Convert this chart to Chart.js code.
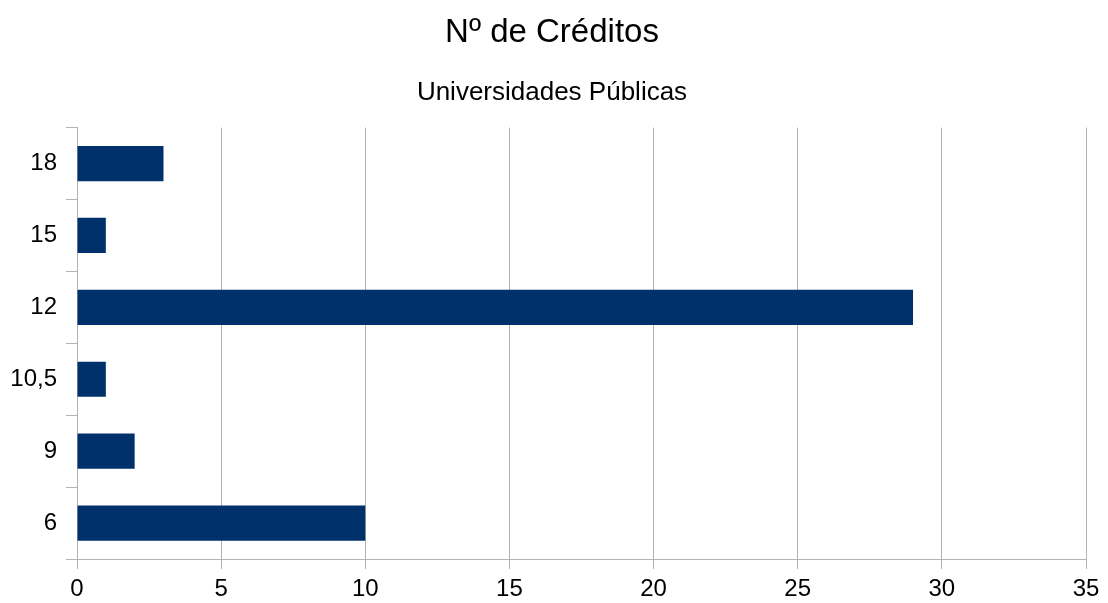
<!DOCTYPE html>
<html>
<head>
<meta charset="utf-8">
<script src="https://cdn.jsdelivr.net/npm/chart.js@4/dist/chart.umd.min.js"></script>
<style>
html,body{margin:0;padding:0;background:#fff;}
#wrap{width:1108px;height:603px;}
</style>
</head>
<body>
<div id="wrap"><canvas id="c" width="1108" height="603"></canvas></div>
<script>
const categories = ['6', '9', '10,5', '12', '15', '18'];
const values = [10, 2, 1, 29, 1, 3];
const xTicks = [0, 5, 10, 15, 20, 25, 30, 35];
const titleText = 'Nº de Créditos';
const subtitleText = 'Universidades Públicas';

const GRID = '#b3b3b3';
const FONT = "'Liberation Sans', Arial, sans-serif";

new Chart(document.getElementById('c'), {
  type: 'bar',
  data: {
    labels: categories,
    datasets: [{
      data: values,
      backgroundColor: '#00316b',
      borderWidth: 0,
      categoryPercentage: 1,
      barPercentage: 0.49
    }]
  },
  options: {
    indexAxis: 'y',
    responsive: false,
    animation: false,
    layout: { padding: { left: 18, right: 22, top: 0, bottom: 0 } },
    plugins: {
      legend: { display: false },
      tooltip: { enabled: false },
      title: {
        display: true,
        text: titleText,
        color: '#000',
        font: { family: FONT, size: 33, weight: 'normal', lineHeight: 1.2 },
        padding: { top: 13, bottom: 0 }
      },
      subtitle: {
        display: true,
        text: subtitleText,
        color: '#000',
        font: { family: FONT, size: 26, weight: 'normal', lineHeight: 1.2 },
        padding: { top: 25, bottom: 18.8 }
      }
    },
    scales: {
      x: {
        min: 0,
        max: 35,
        afterBuildTicks: (s) => { s.ticks = xTicks.map(v => ({ value: v })); },
        afterFit: (s) => { s.height = 44; },
        ticks: { color: '#000', font: { family: FONT, size: 24 }, padding: 6 },
        grid: { color: GRID, lineWidth: 1, tickLength: 10, drawTicks: true },
        border: { color: GRID, width: 1 }
      },
      y: {
        reverse: true,
        offset: true,
        afterFit: (s) => { s.width = 59; s._computeLabelArea = () => undefined; },
        ticks: { color: '#000', font: { family: FONT, size: 24 }, padding: 9 },
        grid: {
          offset: true,
          tickLength: 11,
          tickColor: GRID,
          color: (ctx) => (ctx.index === 0 || ctx.index === categories.length) ? GRID : 'rgba(0,0,0,0)'
        },
        border: { color: GRID, width: 1 }
      }
    }
  }
});
</script>
</body>
</html>
